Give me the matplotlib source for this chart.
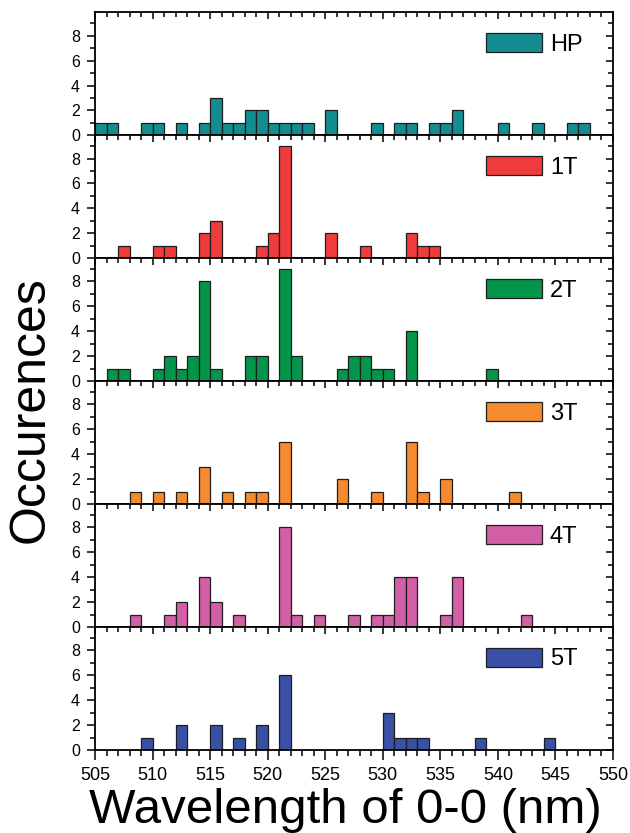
import matplotlib
matplotlib.use("Agg")
import matplotlib.pyplot as plt
from matplotlib.ticker import MultipleLocator

plt.rcParams['font.family'] = ['Liberation Sans', 'DejaVu Sans']

labels = ["HP", "1T", "2T", "3T", "4T", "5T"]
colors = ["#138d8f", "#ef3b3c", "#03954a", "#f68a2e", "#d360a6", "#3a4fa6"]

hp_bins = [505, 506, 509, 510, 512, 514, 515, 516, 517, 518, 519, 520, 521, 522, 523,
           525, 529, 531, 532, 534, 535, 536, 540, 543, 546, 547]
hp_counts = [1, 1, 1, 1, 1, 1, 3, 1, 1, 2, 2, 1, 1, 1, 1,
             2, 1, 1, 1, 1, 1, 2, 1, 1, 1, 1]

t1_bins = [507, 510, 511, 514, 515, 519, 520, 521, 525, 528, 532, 533, 534]
t1_counts = [1, 1, 1, 2, 3, 1, 2, 9, 2, 1, 2, 1, 1]

t2_bins = [506, 507, 510, 511, 512, 513, 514, 515, 518, 519, 521, 522,
           526, 527, 528, 529, 530, 532, 539]
t2_counts = [1, 1, 1, 2, 1, 2, 8, 1, 2, 2, 9, 2,
             1, 2, 2, 1, 1, 4, 1]

t3_bins = [508, 510, 512, 514, 516, 518, 519, 521, 526, 529, 532, 533, 535, 541]
t3_counts = [1, 1, 1, 3, 1, 1, 1, 5, 2, 1, 5, 1, 2, 1]

t4_bins = [508, 511, 512, 514, 515, 517, 521, 522, 524, 527, 529, 530, 531, 532,
           535, 536, 542]
t4_counts = [1, 1, 2, 4, 2, 1, 8, 1, 1, 1, 1, 1, 4, 4,
             1, 4, 1]

t5_bins = [509, 512, 515, 517, 519, 521, 530, 531, 532, 533, 538, 544]
t5_counts = [1, 2, 2, 1, 2, 6, 3, 1, 1, 1, 1, 1]

all_bins = [hp_bins, t1_bins, t2_bins, t3_bins, t4_bins, t5_bins]
all_counts = [hp_counts, t1_counts, t2_counts, t3_counts, t4_counts, t5_counts]

x_ticks = [505, 510, 515, 520, 525, 530, 535, 540, 545, 550]
y_ticks = [0, 2, 4, 6, 8]

fig = plt.figure(figsize=(6.3, 8.33), dpi=100)
gs = fig.add_gridspec(6, 1, left=0.151, right=0.973, top=0.985, bottom=0.0996, hspace=0)
axes = [fig.add_subplot(gs[i]) for i in range(6)]

for i, ax in enumerate(axes):
    ax.bar(all_bins[i], all_counts[i], width=1, align='edge', color=colors[i],
           edgecolor='#1e1e1e', linewidth=0.9, label=labels[i], zorder=2)
    ax.set_xlim(505, 550)
    ax.set_ylim(0, 9.85)
    ax.set_xticks(x_ticks)
    ax.set_yticks(y_ticks)
    ax.xaxis.set_minor_locator(MultipleLocator(1))
    ax.yaxis.set_minor_locator(MultipleLocator(1))
    for s in ax.spines.values():
        s.set_linewidth(1.3)
        s.set_zorder(3)
    ax.tick_params(axis='x', which='both', top=True, bottom=True, direction='out',
                   width=1.1, labelsize=13, pad=3)
    if i == 5:
        ax.tick_params(axis='x', which='major', length=7, pad=5)
        ax.tick_params(axis='x', which='minor', length=4)
    else:
        ax.tick_params(axis='x', which='major', length=5)
        ax.tick_params(axis='x', which='minor', length=3)
    ax.tick_params(axis='y', which='both', left=True, right=True, direction='out',
                   width=1.1, labelsize=11.5, pad=5)
    ax.tick_params(axis='y', which='major', length=6)
    ax.tick_params(axis='y', which='minor', length=3.5)
    for t in ax.xaxis.get_major_ticks() + ax.xaxis.get_minor_ticks():
        t.tick2line.set_marker(3)  # inward from top spine
        t.tick2line.set_markersize(3.5 if t in ax.xaxis.get_minor_ticks() else 5)
    for t in ax.yaxis.get_major_ticks() + ax.yaxis.get_minor_ticks():
        t.tick2line.set_marker(0)  # inward from right spine
        t.tick2line.set_markersize(3.5 if t in ax.yaxis.get_minor_ticks() else 5)
    if i < 5:
        ax.tick_params(axis='x', labelbottom=False)
    ax.legend(loc='center left', bbox_to_anchor=(0.755, 0.74), frameon=False,
              fontsize=17, handlelength=2.35, handleheight=0.88,
              handletextpad=0.35, borderpad=0, borderaxespad=0)

fig.text(0.548, 0.027, "Wavelength of 0-0 (nm)", fontsize=35.5, ha='center', va='center')
fig.text(0.048, 0.508, "Occurences", fontsize=36, rotation=90, ha='center', va='center')

fig.savefig("out.png", dpi=100)
